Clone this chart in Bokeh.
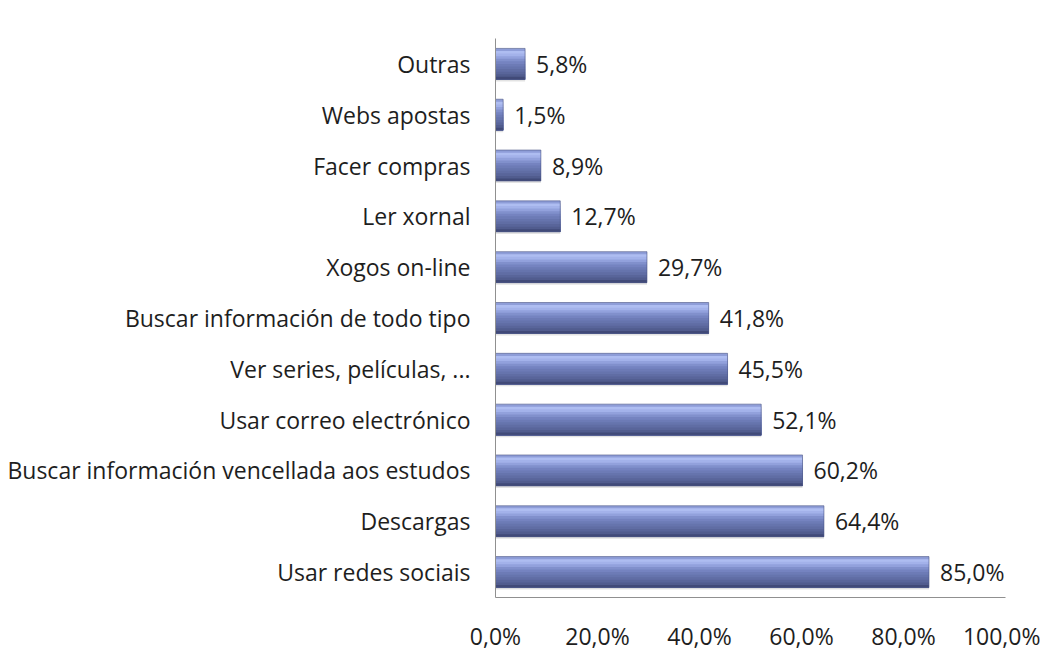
from bokeh.plotting import figure
from bokeh.models import ColumnDataSource, FactorRange, Range1d, FixedTicker
from bokeh.transform import dodge
from bokeh.core.properties import value
from bokeh.embed import file_html
from bokeh.resources import INLINE

categories = ["Outras", "Webs apostas", "Facer compras", "Ler xornal", "Xogos on-line",
              "Buscar información de todo tipo", "Ver series, películas, ...",
              "Usar correo electrónico", "Buscar información vencellada aos estudos",
              "Descargas", "Usar redes sociais"]
values = [5.8, 1.5, 8.9, 12.7, 29.7, 41.8, 45.5, 52.1, 60.2, 64.4, 85.0]
tick_values = [0, 20, 40, 60, 80, 100]
tick_labels = ["0,0%", "20,0%", "40,0%", "60,0%", "80,0%", "100,0%"]

labels = [f"{v:.1f}".replace(".", ",") + "%" for v in values]
source = ColumnDataSource(data=dict(cat=categories, val=values, lab=labels))

FONT = "Open Sans"
p = figure(width=1040, height=654, output_backend="svg", toolbar_location=None,
           y_range=FactorRange(*reversed(categories)), x_range=Range1d(0, 100),
           min_border_left=495, min_border_right=35, min_border_top=38, min_border_bottom=56)
p.outline_line_color = None
p.xgrid.visible = False
p.ygrid.visible = False
p.background_fill_color = "white"

# bar with vertical gradient built from overlapping layers (top to bottom)
bar_h = 0.61
stops = ["#8e9dd8", "#aebdf1", "#a3b2ea", "#92a1dc", "#8190cc", "#7583c0",
         "#6d7bb6", "#6674ad", "#606da4", "#59659a", "#515c8e", "#414a78"]
n = len(stops)
sh = bar_h / n
# shadow
p.hbar(y=dodge("cat", -0.04, range=p.y_range), right="val", left=0, height=bar_h,
       source=source, fill_color="#c8c8c8", fill_alpha=0.5, line_color=None)
for i, c in enumerate(stops):
    h = bar_h - i * sh
    off = -bar_h / 2 + h / 2
    p.hbar(y=dodge("cat", off, range=p.y_range), right="val", left=0, height=h,
           source=source, fill_color=c, line_color=None)
p.hbar(y="cat", right="val", left=0, height=bar_h, source=source,
       fill_color=None, line_color="#4d5785", line_width=1, line_alpha=0.6)

p.text(x="val", y="cat", text="lab", source=source, x_offset=11, text_baseline="middle",
       text_font=value(FONT), text_font_size="23px", text_color="#1e1e1e")

xa = p.xaxis[0]
xa.ticker = FixedTicker(ticks=tick_values)
xa.major_label_overrides = {t: l for t, l in zip(tick_values, tick_labels)}
xa.major_tick_line_color = None
xa.minor_tick_line_color = None
xa.major_tick_out = 0
xa.major_tick_in = 0
xa.minor_tick_out = 0
xa.axis_line_color = "#909090"
xa.major_label_text_font = FONT
xa.major_label_text_font_size = "23px"
xa.major_label_text_color = "#1e1e1e"
xa.major_label_standoff = 22

ya = p.yaxis[0]
ya.major_tick_line_color = None
ya.minor_tick_line_color = None
ya.major_tick_out = 0
ya.major_tick_in = 0
ya.minor_tick_out = 0
ya.axis_line_color = "#909090"
ya.major_label_text_font = FONT
ya.major_label_text_font_size = "23px"
ya.major_label_text_color = "#1e1e1e"
ya.major_label_standoff = 25

open("out.html", "w").write(file_html(p, INLINE))
